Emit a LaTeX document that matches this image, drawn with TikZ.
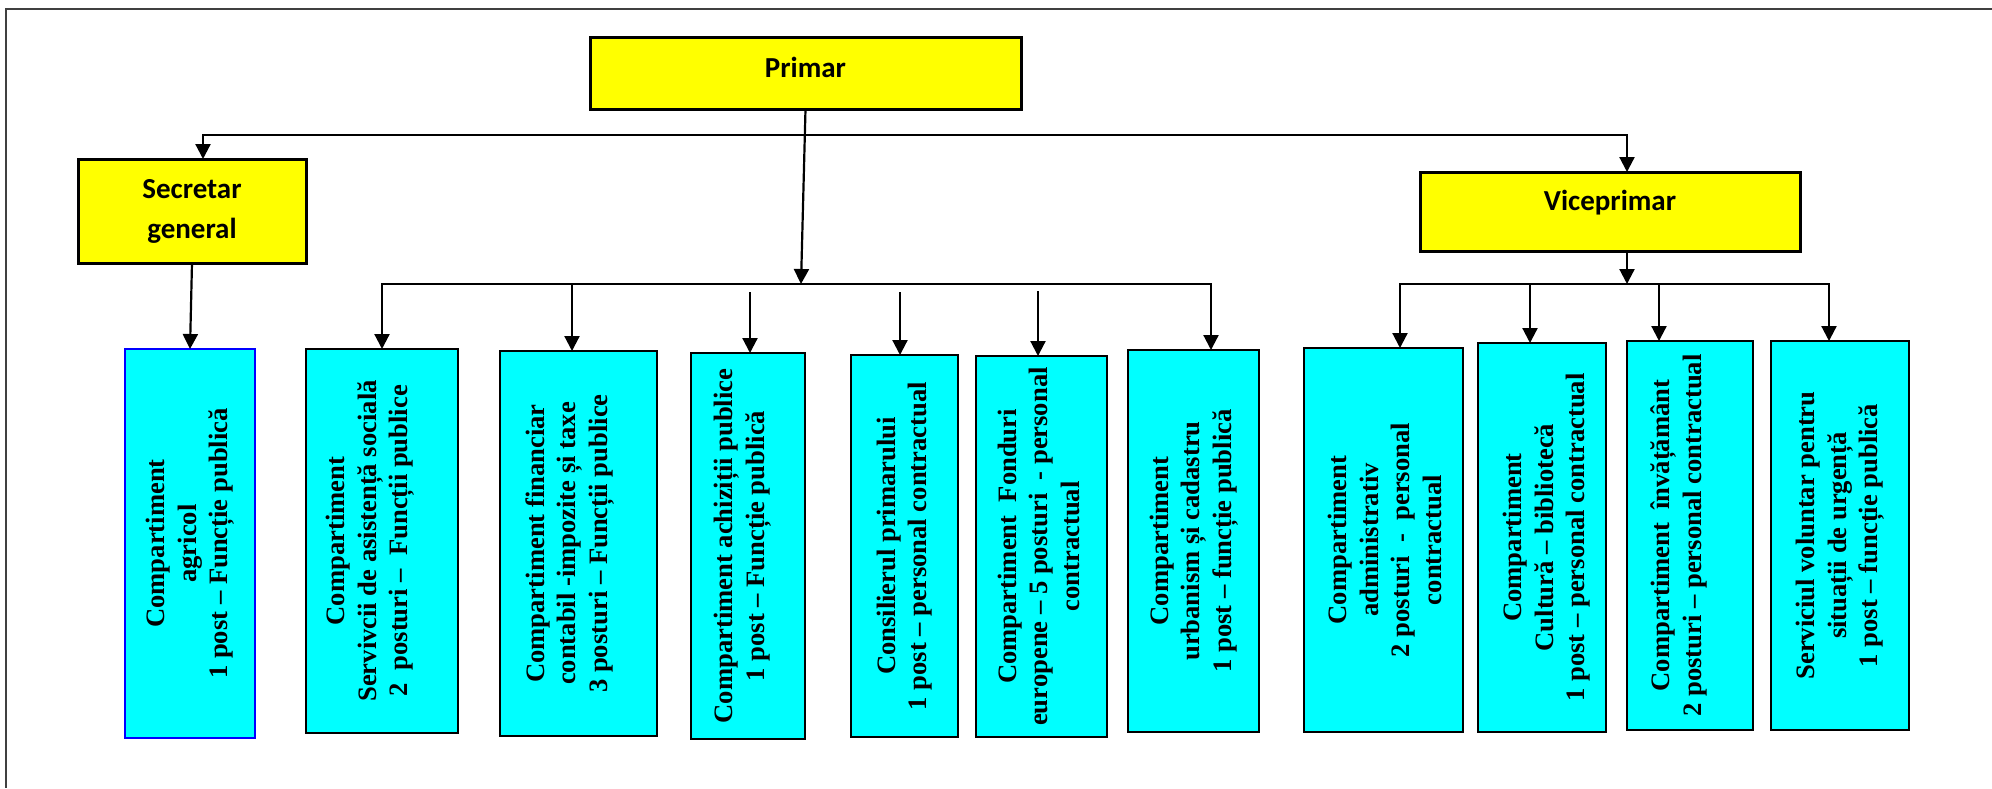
\documentclass[tikz,border=0pt]{standalone}
\usepackage{fontspec}
\usepackage{graphicx}
\setmainfont{Liberation Serif}
\newfontfamily\calibri{Carlito}
\usetikzlibrary{arrows.meta}

\definecolor{headyellow}{RGB}{255,255,0}
\definecolor{deptcyan}{RGB}{0,255,255}
\definecolor{deptblue}{RGB}{0,0,255}

\tikzset{
  head/.style={draw, line width=3pt, fill=headyellow, outer sep=0pt, inner sep=0pt,
    font=\calibri\bfseries\fontsize{29}{40}\selectfont, align=center},
  dept/.style={draw, line width=2.5pt, fill=deptcyan, outer sep=0pt, inner sep=0pt,
    font=\bfseries\fontsize{26.6}{31.5}\selectfont},
  link/.style={line width=2.2pt}
}
% vertical text, read from bottom to top
\newcommand{\vlabel}[2][0]{\rotatebox{90}{\raisebox{#1pt}[\height][\depth]{\begin{tabular}{@{}c@{}}#2\end{tabular}}}}

\begin{document}
\begin{tikzpicture}[x=1pt, y=-1pt, >={Triangle[length=15pt,width=15pt]}]
    \useasboundingbox (0,0) rectangle (1992,788);

    % Frame
    \draw[line width=2pt, black!75] (1992,9) -- (6,9) -- (6,788);

    % Draw the leaders
    \node[head, minimum width=431, minimum height=72] (primar) at (805.5,73) {\raisebox{6pt}[\height][\depth]{Primar}};
    \node[head, minimum width=228, minimum height=104] (secretar) at (192,211) {Secretar\\general};
    \node[head, minimum width=380, minimum height=79] (vice) at (1610,211.5) {\raisebox{9pt}[\height][\depth]{Viceprimar}};

    % Draw the departments
    \node[dept, draw=deptblue, line width=2pt, minimum width=130, minimum height=389] (agricol) at (190,543.5)
      {\vlabel{Compartiment\\agricol\\1 post – Funcție publică}};
    \node[dept, minimum width=152, minimum height=384] (asist) at (382,541)
      {\vlabel[12]{Compartiment\\Servivcii de asistență socială\\2\ \ posturi – \ Funcții publice}};
    \node[dept, minimum width=157, minimum height=385] (finan) at (578.5,543.5)
      {\vlabel[9]{Compartiment financiar\\contabil -impozite și taxe\\3 posturi – Funcții publice}};
    \node[dept, minimum width=114, minimum height=386] (achiz) at (748,546)
      {\vlabel[6]{Compartiment achiziții publice\\1 post – Funcție publică}};
    \node[dept, minimum width=107, minimum height=382] (consil) at (904.5,546)
      {\vlabel{Consilierul primarului\\1 post – personal contractual}};
    \node[dept, minimum width=131, minimum height=381] (fond) at (1041.5,546.5)
      {\vlabel{Compartiment\ \ Fonduri\\europene – 5 posturi\ \ - personal\\contractual}};
    \node[dept, minimum width=131, minimum height=382] (urban) at (1193.5,541)
      {\vlabel{Compartiment\\urbanism și cadastru\\1 post – funcție publică}};
    \node[dept, minimum width=159, minimum height=384] (admin) at (1383.5,540)
      {\vlabel[-4]{Compartiment\\administrativ\\2 posturi\ \ - \ personal\\contractual}};
    \node[dept, minimum width=128, minimum height=389] (cult) at (1542,537.5)
      {\vlabel[-5]{Compartiment\\Cultură – bibliotecă\\1 post – personal contractual}};
    \node[dept, minimum width=126, minimum height=389] (invat) at (1690,535.5)
      {\vlabel[11]{Compartiment\ \ învățământ\\2 posturi – personal contractual}};
    \node[dept, minimum width=138, minimum height=389] (serv) at (1840,535.5)
      {\vlabel{Serviciul voluntar pentru\\situații de urgență\\1 post – funcție publică}};

    % Bus points
    \coordinate (topL) at (203,135);
    \coordinate (topR) at (1627,135);
    \coordinate (pL) at (382,284);
    \coordinate (pF) at (572,284);
    \coordinate (pM) at (801,284);
    \coordinate (pR) at (1211,284);
    \coordinate (gA) at (750,292);
    \coordinate (gC) at (900,292);
    \coordinate (gF) at (1038,291);
    \coordinate (vL) at (1400,284);
    \coordinate (vC) at (1530,284);
    \coordinate (vM) at (1627,284);
    \coordinate (vI) at (1659,284);
    \coordinate (vR) at (1829,284);

    % Draw connections
    \draw[link, <->] (topL |- secretar.north) -- (topL) -- (topR) -- (topR |- vice.north);
    \draw[link, ->] (primar.south) -- (pM);
    \draw[link, ->] (secretar.south) -- (agricol.north);
    \draw[link, <->] (pL |- asist.north) -- (pL) -- (pR) -- (pR |- urban.north);
    \draw[link, ->] (pF) -- (pF |- finan.north);
    \draw[link, ->] (gA) -- (gA |- achiz.north);
    \draw[link, ->] (gC) -- (gC |- consil.north);
    \draw[link, ->] (gF) -- (gF |- fond.north);
    \draw[link, ->] ([xshift=17pt]vice.south) -- (vM);
    \draw[link, <->] (vL |- admin.north) -- (vL) -- (vR) -- (vR |- serv.north);
    \draw[link, ->] (vC) -- (vC |- cult.north);
    \draw[link, ->] (vI) -- (vI |- invat.north);

\end{tikzpicture}
\end{document}
